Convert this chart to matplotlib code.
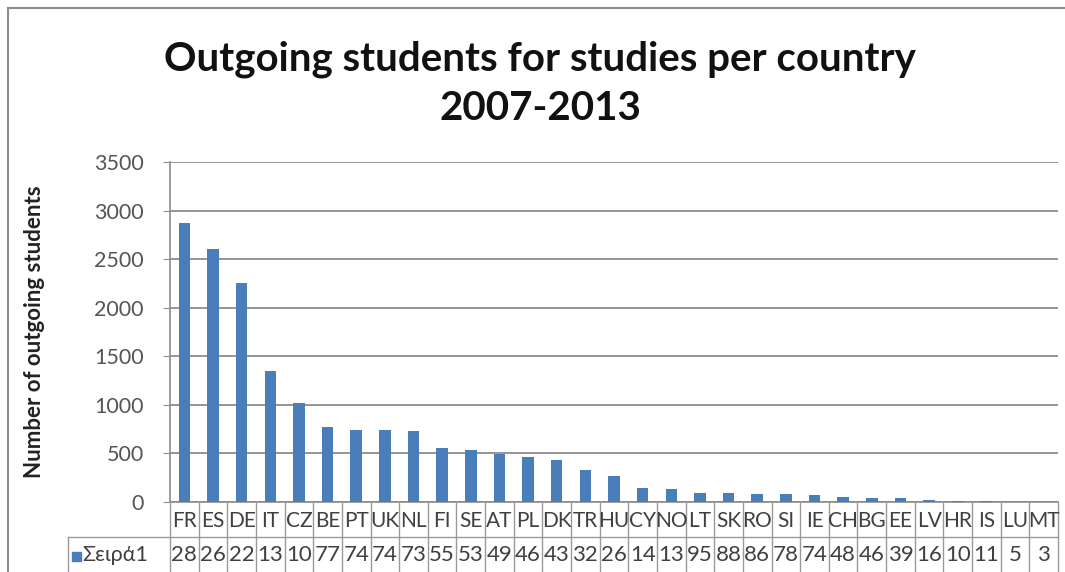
import matplotlib
matplotlib.use("Agg")
import matplotlib.pyplot as plt
from matplotlib.lines import Line2D
from matplotlib.patches import Rectangle

countries = ["FR", "ES", "DE", "IT", "CZ", "BE", "PT", "UK", "NL", "FI", "SE", "AT", "PL", "DK",
             "TR", "HU", "CY", "NO", "LT", "SK", "RO", "SI", "IE", "CH", "BG", "EE", "LV", "HR",
             "IS", "LU", "MT"]
students = [2875, 2600, 2255, 1345, 1015, 770, 745, 745, 735, 555, 535, 495, 465, 435,
            325, 265, 145, 135, 95, 88, 86, 78, 74, 48, 46, 39, 16, 10, 11, 5, 3]
series_name = "Σειρά1"
yticks = [0, 500, 1000, 1500, 2000, 2500, 3000, 3500]

W, H = 1065, 572
fig = plt.figure(figsize=(W / 100, H / 100), dpi=100)
plt.rcParams['font.family'] = ['Lato', 'DejaVu Sans']

def px(x, y):
    return x / W, 1 - y / H

# outer border
fig.add_artist(Line2D([8 / W, 8 / W], [0, 1 - 8 / H], color="#8c8c8c", lw=1.5, transform=fig.transFigure))
fig.add_artist(Line2D([8 / W, 1], [1 - 8 / H, 1 - 8 / H], color="#8c8c8c", lw=1.5, transform=fig.transFigure))

left, right, top, bottom = 170, 1058, 162, 502
ax = fig.add_axes([left / W, 1 - bottom / H, (right - left) / W, (bottom - top) / H])
n = len(countries)
xs = list(range(n))
ax.bar(xs, students, width=0.4, color="#4a7ebb", zorder=3)
ax.set_xlim(-0.5, n - 0.5)
ax.set_ylim(0, 3500)
ax.set_yticks(yticks)
ax.set_yticklabels([str(t) for t in yticks], fontsize=15.5, color="#555555")
ax.tick_params(axis="y", length=5, color="#8c8c8c", pad=14)
ax.set_xticks([])
ax.grid(axis="y", color="#8c8c8c", lw=1.3, zorder=0)
for s in ["top", "right"]:
    ax.spines[s].set_visible(False)
ax.spines["left"].set_color("#8c8c8c")
ax.spines["bottom"].set_color("#8c8c8c")
ax.spines["left"].set_linewidth(1.2)
ax.spines["bottom"].set_linewidth(1.2)
ax.set_ylabel("Number of outgoing students", fontsize=16, fontweight="bold", color="#222222", labelpad=35)

# data table below the axis
row_mid = 537
col_w = (right - left) / n
tc = "#9a9a9a"
for i in range(n + 1):
    x = left + i * col_w
    fig.add_artist(Line2D([x / W, x / W], [0, 1 - bottom / H], color=tc, lw=1, transform=fig.transFigure))
fig.add_artist(Line2D([68 / W, right / W], [1 - row_mid / H] * 2, color=tc, lw=1, transform=fig.transFigure))
fig.add_artist(Line2D([68 / W, 68 / W], [0, 1 - row_mid / H], color=tc, lw=1, transform=fig.transFigure))
for i, (c, v) in enumerate(zip(countries, students)):
    cx = left + (i + 0.5) * col_w
    fig.text(cx / W, 1 - 521 / H, c, ha="center", va="center", fontsize=15, color="#404040")
    fig.text(cx / W, 1 - 555 / H, str(v)[:2], ha="center", va="center", fontsize=16, color="#404040")
fig.add_artist(Rectangle(px(72, 561), 9 / W, 9 / H, color="#4a7ebb", transform=fig.transFigure))
fig.text(82 / W, 1 - 555 / H, series_name, ha="left", va="center", fontsize=15.5, color="#404040")

fig.text(540 / W, 1 - 84 / H, "Outgoing students for studies per country\n2007-2013", ha="center",
         va="center", fontsize=29, fontweight="bold", color="#111111", linespacing=1.4)

fig.savefig("out.png", dpi=100)
